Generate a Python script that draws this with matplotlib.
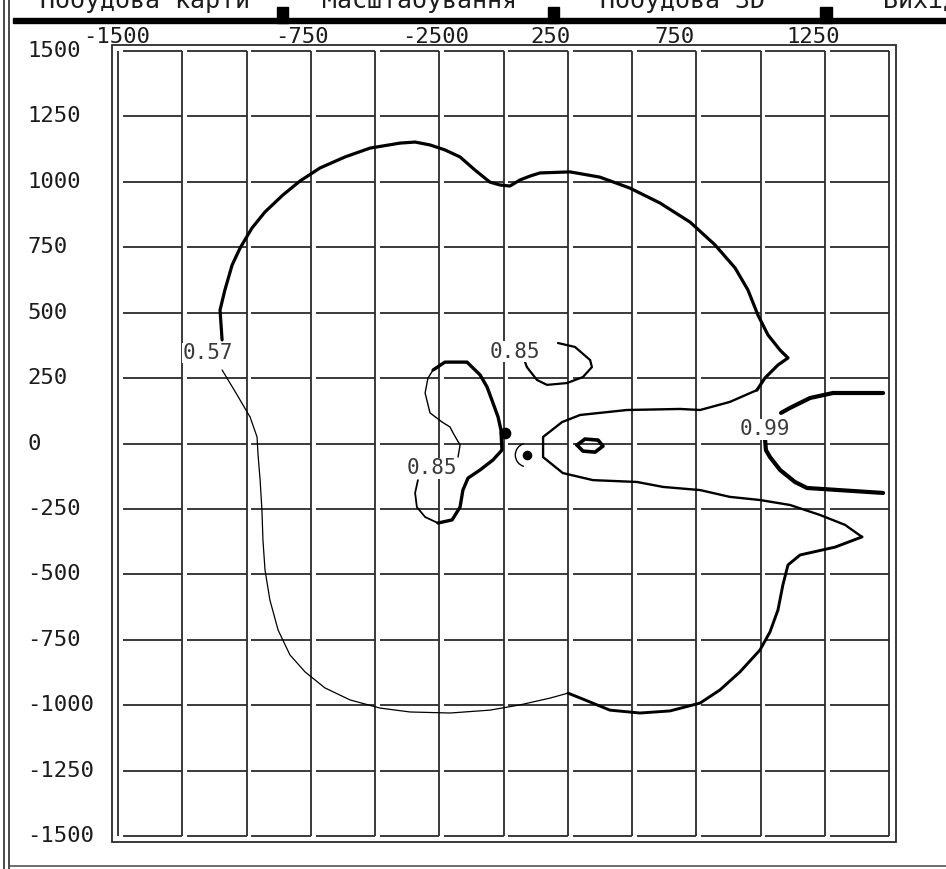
import matplotlib
matplotlib.use("Agg")
import matplotlib.pyplot as plt
import numpy as np
from matplotlib.collections import LineCollection
from matplotlib.lines import Line2D
from matplotlib.patches import Arc, Rectangle
from matplotlib.transforms import blended_transform_factory

# --- data (map units) ---
menu_items = ["Побудова карти", "Масштабування", "Побудова 3D", "Вихід"]
x_tick_labels = ["-1500", "-750", "-2500", "250", "750", "1250"]
y_ticks = [1500, 1250, 1000, 750, 500, 250, 0, -250, -500, -750, -1000, -1250, -1500]
grid_vals = np.arange(-1500, 1501, 250)

# isoline 0.57, split by how heavy the original trace is drawn
outer_top_x = [-1095, -1103, -1084, -1056, -1025, -979, -928, -858, -792, -714, -617, -519, -403, -344,
               -286, -228, -169, -111, -53, -14, 25, 64, 103, 142, 259, 375, 492, 609, 726, 823, 901,
               951, 990, 1029, 1076, 1107, 1068, 1017, 986]
outer_top_y = [396, 510, 587, 682, 747, 823, 885, 950, 1003, 1053, 1095, 1129, 1148, 1152,
               1141, 1122, 1095, 1045, 999, 988, 984, 1007, 1022, 1034, 1038, 1018, 976, 919, 846, 759, 671,
               587, 491, 415, 357, 327, 300, 250, 204]
tongue_x = [986, 881, 765, 687, 480, 298, 228, 154, 154, 231, 348, 519, 621, 765, 881, 998, 1115,
            1231, 1329, 1395]
tongue_y = [204, 159, 128, 132, 128, 109, 82, 25, -52, -113, -140, -147, -166, -178, -204, -216, -235,
            -273, -311, -357]
outer_right_x = [1395, 1290, 1154, 1107, 1087, 1068, 1037, 998, 920, 842, 765, 648, 531, 414, 317, 251]
outer_right_y = [-357, -396, -426, -464, -541, -636, -720, -789, -873, -942, -992, -1022, -1030, -1019,
                 -980, -954]
outer_left_x = [251, 181, 64, -53, -208, -364, -481, -597, -695, -772, -831, -877, -909, -928, -936,
                -940, -947, -955, -959, -986, -1041, -1095]
outer_left_y = [-954, -973, -999, -1019, -1030, -1026, -1011, -980, -934, -873, -808, -713, -598, -483,
                -369, -254, -140, -44, 25, 101, 193, 281]

# isoline 0.99 (two open branches at the right edge)
iso99_up_x = [1477, 1282, 1193, 1154, 1115, 1080]
iso99_up_y = [193, 193, 174, 155, 136, 117]
iso99_low_x = [1017, 1021, 1037, 1076, 1134, 1181, 1477]
iso99_low_y = [25, -25, -52, -101, -147, -170, -189]

# isoline 0.85 (upper hook and left lobe)
iso85_hook_x = [212, 278, 337, 344, 309, 247, 169, 130, 91, 84]
iso85_hook_y = [384, 369, 319, 292, 254, 231, 224, 243, 292, 311]
lobe_thin_x = [-177, -169, -196, -208, -239, -286, -305, -294, -274]
lobe_thin_y = [-52, -6, 40, 63, 82, 117, 193, 250, 281]
lobe_thick_x = [-274, -228, -142, -91, -64, -41, -21, -10, -6, -41, -91, -138, -158, -169, -200, -255]
lobe_thick_y = [281, 311, 311, 262, 216, 155, 101, 52, -25, -63, -101, -132, -178, -243, -292, -304]
lobe_tail_x = [-255, -305, -337, -344, -333]
lobe_tail_y = [-304, -281, -243, -189, -140]

# small closed isoline right of the wells
lens_x = [286, 317, 368, 387, 356, 309, 286]
lens_y = [-6, 17, 13, -10, -33, -29, -6]

# wells
well_filled = (6, 40)
well_ring = (91, -44)

# contour labels
label_text = ["0.57", "0.85", "0.85", "0.99"]
label_x = [-1150, 45, -278, 1017]
label_y = [346, 350, -94, 55]

# --- layout (pixels of a 946x869 screen) ---
W, H = 946, 869
MONO = "DejaVu Sans Mono"
INK = "#1c1c1c"
GAP = 19  # the old screen leaves a small gap left of each grid segment


def fx(px):
    return px / W


def fy(py):
    return 1 - py / H


fig = plt.figure(figsize=(W / 100, H / 100), dpi=100)
ax = fig.add_axes([fx(118), fy(836), fx(889) - fx(118), fy(51) - fy(836)])
ax.set_xlim(-1500, 1500)
ax.set_ylim(-1500, 1500)
ax.set_axis_off()

# grid: full vertical lines, horizontal ones broken into cell segments
segs = [[(g, -1500), (g, 1500)] for g in grid_vals]
for gy in grid_vals:
    for x0, x1 in zip(grid_vals[:-1], grid_vals[1:]):
        segs.append([(x0 + GAP, gy), (x1, gy)])
ax.add_collection(LineCollection(segs, colors="#2b2b2b", linewidths=1.3, clip_on=False, zorder=1))

# contours
line_kw = dict(color="black", solid_capstyle="round", solid_joinstyle="round", clip_on=False, zorder=3)
ax.plot(outer_top_x, outer_top_y, lw=2.3, **line_kw)
ax.plot(tongue_x, tongue_y, lw=1.7, **line_kw)
ax.plot(outer_right_x, outer_right_y, lw=2.1, **line_kw)
ax.plot(outer_left_x, outer_left_y, lw=0.9, **line_kw)
ax.plot(iso99_up_x, iso99_up_y, lw=3.0, **line_kw)
ax.plot(iso99_low_x, iso99_low_y, lw=3.0, **line_kw)
ax.plot(iso85_hook_x, iso85_hook_y, lw=1.6, **line_kw)
ax.plot(lobe_thin_x, lobe_thin_y, lw=1.0, **line_kw)
ax.plot(lobe_thick_x, lobe_thick_y, lw=2.4, **line_kw)
ax.plot(lobe_tail_x, lobe_tail_y, lw=1.3, **line_kw)
ax.plot(lens_x, lens_y, lw=2.6, **line_kw)

# wells
ax.scatter(*well_filled, s=55, color="black", zorder=4)
ax.scatter(*well_ring, s=35, color="black", zorder=4)
ax.add_patch(Arc(well_ring, 90, 90, theta1=105, theta2=255, color="black", lw=1.0, zorder=4))

for t, x, y in zip(label_text, label_x, label_y):
    ax.text(x, y, t, ha="center", va="center", family=MONO, fontsize=15, color="#3a3a3a", zorder=5,
            bbox=dict(facecolor="white", edgecolor="none", pad=0.3))

# outer frame of the map window
fig.add_artist(Rectangle((fx(112), fy(842)), fx(896) - fx(112), fy(45) - fy(842), fill=False,
                         edgecolor="#2b2b2b", lw=1.3, transform=fig.transFigure))

# axis labels, as the program printed them
ytrans = blended_transform_factory(fig.transFigure, ax.transData)
for v in y_ticks:
    ax.text(fx(27), v, str(v), transform=ytrans, ha="left", va="center", family=MONO, fontsize=16,
            color=INK, clip_on=False)
x_label_left = [83, 275, 402, 530, 655, 786]
for t, px in zip(x_tick_labels, x_label_left):
    fig.text(fx(px), fy(37), t, ha="left", va="center", family=MONO, fontsize=16, color=INK)

# screen chrome: window border and the menu bar, whose captions the screenshot cuts in half
for px in (3.5, 9):
    fig.add_artist(Line2D([fx(px), fx(px)], [0, 1], color="#2b2b2b", lw=1.2))
fig.add_artist(Line2D([fx(9), 1], [fy(866), fy(866)], color="#555555", lw=1.2))
fig.add_artist(Rectangle((fx(13), fy(23)), 1 - fx(13), fy(18) - fy(23), color="black",
                         transform=fig.transFigure))
for a, b in [(277, 288), (548, 559), (820, 832)]:
    fig.add_artist(Rectangle((fx(a), fy(23)), fx(b) - fx(a), fy(7) - fy(23), color="black",
                             transform=fig.transFigure))
for t, px in zip(menu_items, [40, 322, 600, 883]):
    fig.text(fx(px), fy(8), t, ha="left", va="baseline", family=MONO, fontsize=18, color=INK)

fig.savefig("out.png", dpi=100, facecolor="white")
